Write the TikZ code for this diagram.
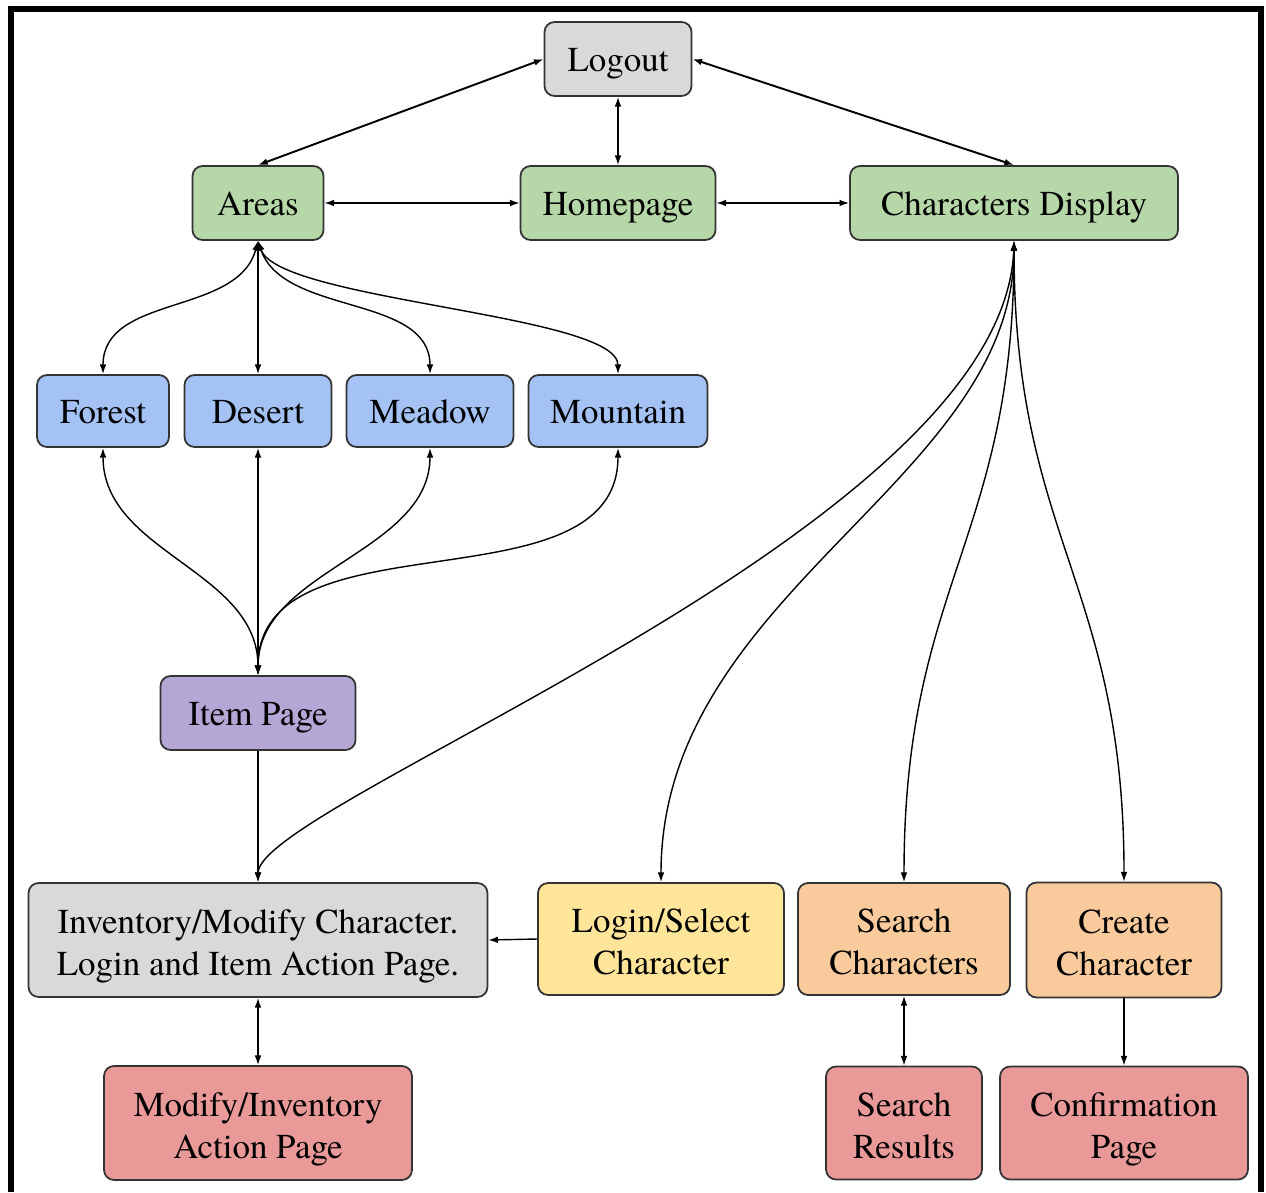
\documentclass[tikz,border=0pt]{standalone}
\usepackage{fontspec}
\setmainfont{texgyretermes}[Extension=.otf, UprightFont=*-regular, BoldFont=*-bold, ItalicFont=*-italic, BoldItalicFont=*-bolditalic]
\usetikzlibrary{positioning}
\usetikzlibrary{arrows.meta}
\definecolor{greyBox}{HTML}{D9D9D9}
\definecolor{greenBox}{HTML}{B6D7A8}
\definecolor{blueBox}{HTML}{A4C2F4}
\definecolor{purpleBox}{HTML}{B4A7D6}
\definecolor{yellowBox}{HTML}{FFE599}
\definecolor{orangeBox}{HTML}{F9CB9C}
\definecolor{redBox}{HTML}{EA9999}

\begin{document}
\begin{tikzpicture}[x=0.02cm, y=-0.02cm, >={Latex[length=5.5pt,width=3.8pt]}]

          \tikzstyle{page} = [draw=black!80, line width=1pt, rounded corners=0.2cm, inner sep=0pt, align=center, font=\fontsize{19.9}{23.8}\selectfont];
          \tikzstyle{oneLine} = [text height=14.2pt, text depth=0pt];
          \tikzstyle{twoLine} = [text height=40pt, text depth=0pt];
          \tikzstyle{greyPage} = [page, fill=greyBox];
          \tikzstyle{greenPage} = [page, oneLine, fill=greenBox];
          \tikzstyle{bluePage} = [page, oneLine, fill=blueBox];
          \tikzstyle{purplePage} = [page, oneLine, fill=purpleBox];
          \tikzstyle{yellowPage} = [page, twoLine, fill=yellowBox];
          \tikzstyle{orangePage} = [page, twoLine, fill=orangeBox];
          \tikzstyle{redPage} = [page, twoLine, fill=redBox];

          \tikzstyle{twoWay} = [line width=0.8pt, <->];
          \tikzstyle{oneWay} = [line width=0.8pt, ->];

          \useasboundingbox (0,0) rectangle (1266,1192);
          \draw[line width=3.4pt] (11,1192) -- (11,9) -- (1261,9) -- (1261,1192);

          % top rows
          \node[greyPage, oneLine, minimum width=2.94cm, minimum height=1.48cm] (logout) at (618,59) {Logout};
          \node[greenPage, minimum width=2.62cm, minimum height=1.48cm] (areas) at (258,203) {Areas};
          \node[greenPage, minimum width=3.9cm, minimum height=1.48cm] (home) at (618,203) {Homepage};
          \node[greenPage, minimum width=6.56cm, minimum height=1.48cm] (chars) at (1014,203) {Characters Display};

          \node[bluePage, minimum width=2.64cm, minimum height=1.44cm] (forest) at (103,411) {Forest};
          \node[bluePage, minimum width=2.94cm, minimum height=1.44cm] (desert) at (258,411) {Desert};
          \node[bluePage, minimum width=3.34cm, minimum height=1.44cm] (meadow) at (430,411) {Meadow};
          \node[bluePage, minimum width=3.58cm, minimum height=1.44cm] (mountain) at (618,411) {Mountain};

          \node[purplePage, minimum width=3.9cm, minimum height=1.48cm] (item) at (258,713) {Item Page};

          % bottom rows
          \node[greyPage, twoLine, minimum width=9.18cm, minimum height=2.28cm] (inv) at (258,940) {Inventory/Modify Character.\\Login and Item Action Page.};
          \node[yellowPage, minimum width=4.92cm, minimum height=2.24cm] (login) at (661,939) {Login/Select\\Character};
          \node[orangePage, minimum width=4.24cm, minimum height=2.24cm] (search) at (904,939) {Search\\Characters};
          \node[orangePage, minimum width=3.9cm, minimum height=2.3cm] (create) at (1124,940) {Create\\Character};

          \node[redPage, minimum width=6.16cm, minimum height=2.28cm] (modify) at (258,1123) {Modify/Inventory\\Action Page};
          \node[redPage, minimum width=3.12cm, minimum height=2.26cm] (results) at (904,1123) {Search\\Results};
          \node[redPage, minimum width=4.96cm, minimum height=2.26cm] (confirm) at (1124,1123) {Confirmation\\Page};

          \draw[twoWay, line width=1.1pt] (logout.west) -- (areas.north);
          \draw[twoWay, line width=1.1pt] (logout.east) -- (chars.north);
          \draw[twoWay] (logout) -- (home);
          \draw[twoWay] (areas) -- (home);
          \draw[twoWay] (home) -- (chars);

          \draw[twoWay] (areas.south) .. controls +(-20,75) and +(0,-80) .. (forest.north);
          \draw[twoWay] (areas) -- (desert);
          \draw[twoWay] (areas.south) .. controls +(25,75) and +(0,-80) .. (meadow.north);
          \draw[twoWay] (areas.south) .. controls +(20,60) and +(0,-60) .. (mountain.north);

          \draw[twoWay] (forest.south) .. controls +(0,105) and +(0,-105) .. (item.north);
          \draw[twoWay] (desert) -- (item);
          \draw[twoWay] (meadow.south) .. controls +(0,105) and +(0,-105) .. (item.north);
          \draw[twoWay] (mountain.south) .. controls +(0,165) and +(0,-165) .. (item.north);

          \draw[oneWay] (item) -- (inv);
          \draw[twoWay] (chars.south) .. controls +(-10,290) and +(0,-80) .. (inv.north);
          \draw[twoWay] (chars.south) .. controls +(0,240) and +(0,-290) .. (login.north);
          \draw[twoWay] (chars.south) .. controls +(0,300) and +(0,-300) .. (search.north);
          \draw[twoWay] (chars.south) .. controls +(0,300) and +(0,-300) .. (create.north);

          \draw[oneWay] (login.west) -- (inv.east);
          \draw[twoWay] (inv) -- (modify);
          \draw[twoWay] (search) -- (results);
          \draw[oneWay] (create) -- (confirm);
        \end{tikzpicture}
\end{document}
